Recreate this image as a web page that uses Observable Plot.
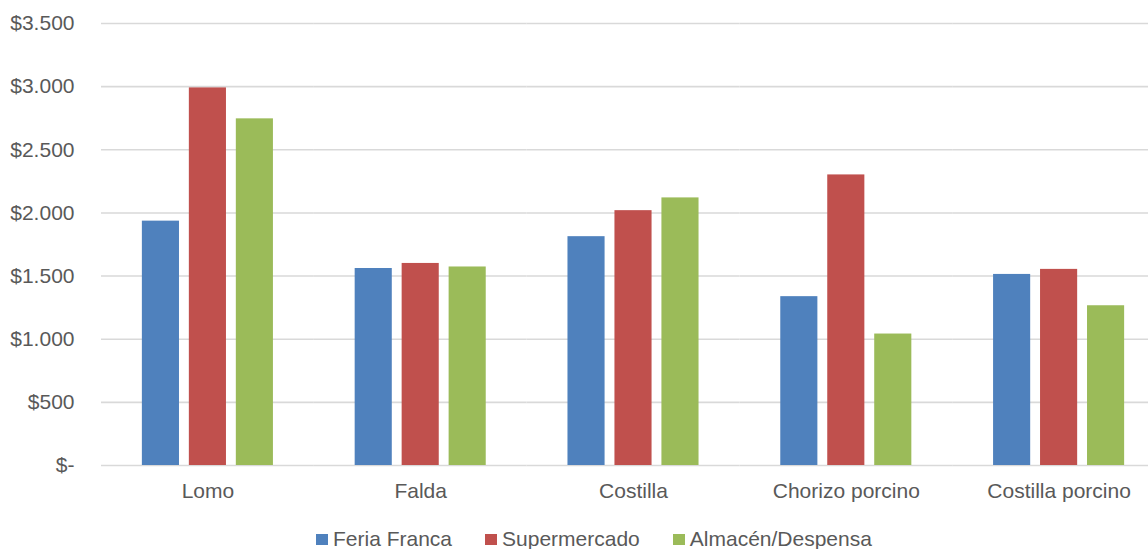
<!DOCTYPE html>
<html>
<head>
<meta charset="utf-8">
<script src="https://cdn.jsdelivr.net/npm/d3@7"></script>
<script src="https://cdn.jsdelivr.net/npm/@observablehq/plot@0.6"></script>
<style>
  html, body { margin: 0; padding: 0; background: #fff; overflow: hidden; width: 1148px; height: 549px; position: relative; }
  body { font-family: "Liberation Sans", Arial, sans-serif; color: #595959; }
  #chart svg { display: block; max-width: none !important; }
  #legend { position: absolute; left: 316px; top: 527px; display: flex; align-items: center; line-height: 24px; height: 24px; font-size: 21px; color: #595959; white-space: nowrap; }
  .item { display: flex; align-items: center; margin-right: 33px; }
  .sw { width: 12px; height: 11px; margin-right: 5px; }
</style>
</head>
<body>
<div id="chart"></div>
<div id="legend"></div>
<script>
const categories = ["Lomo", "Falda", "Costilla", "Chorizo porcino", "Costilla porcino"];
const series = ["Feria Franca", "Supermercado", "Almacén/Despensa"];
const feriaFranca = [1935, 1560, 1812, 1337, 1513];
const supermercado = [2990, 1600, 2018, 2301, 1553];
const almacenDespensa = [2745, 1572, 2119, 1041, 1265];
const yTicks = [0, 500, 1000, 1500, 2000, 2500, 3000, 3500];

const colors = ["#4F81BD", "#C0504D", "#9BBB59"];
const seriesValues = [feriaFranca, supermercado, almacenDespensa];
const data = [];
categories.forEach((c, i) => {
  series.forEach((s, j) => data.push({category: c, series: s, value: seriesValues[j][i]}));
});

const fmt = d => d === 0 ? "$-" : "$" + d3.format(",")(d).replace(/,/g, ".");

const plot = Plot.plot({
  width: 1165,
  height: 520,
  marginLeft: 101,
  marginRight: 0,
  marginTop: 23,
  marginBottom: 55,
  style: {fontFamily: "Liberation Sans, Arial, sans-serif", fontSize: "21px", color: "#595959", background: "#fff", overflow: "visible", maxWidth: "none"},
  fx: {domain: categories, padding: 0, label: null, round: false},
  x: {domain: series, paddingInner: 0.21, paddingOuter: 0.87, axis: null, round: false},
  y: {domain: [0, 3500], axis: null},
  color: {domain: series, range: colors},
  marks: [
    Plot.gridY(yTicks, {stroke: "#d9d9d9", strokeOpacity: 1, strokeWidth: 1.6}),
    Plot.barY(data, {fx: "category", x: "series", y: "value", fill: "series"}),
    Plot.axisY(yTicks, {tickFormat: fmt, tickSize: 0, tickPadding: 27, fontSize: 21, fill: "#595959", label: null}),
    Plot.axisFx({anchor: "bottom", tickSize: 0, tickPadding: 18, fontSize: 21, fill: "#595959", label: null})
  ]
});
document.getElementById("chart").appendChild(plot);

const legend = document.getElementById("legend");
series.forEach((s, j) => {
  const it = document.createElement("div");
  it.className = "item";
  const sw = document.createElement("span");
  sw.className = "sw";
  sw.style.background = colors[j];
  const t = document.createElement("span");
  t.textContent = s;
  it.appendChild(sw);
  it.appendChild(t);
  legend.appendChild(it);
});
</script>
</body>
</html>
